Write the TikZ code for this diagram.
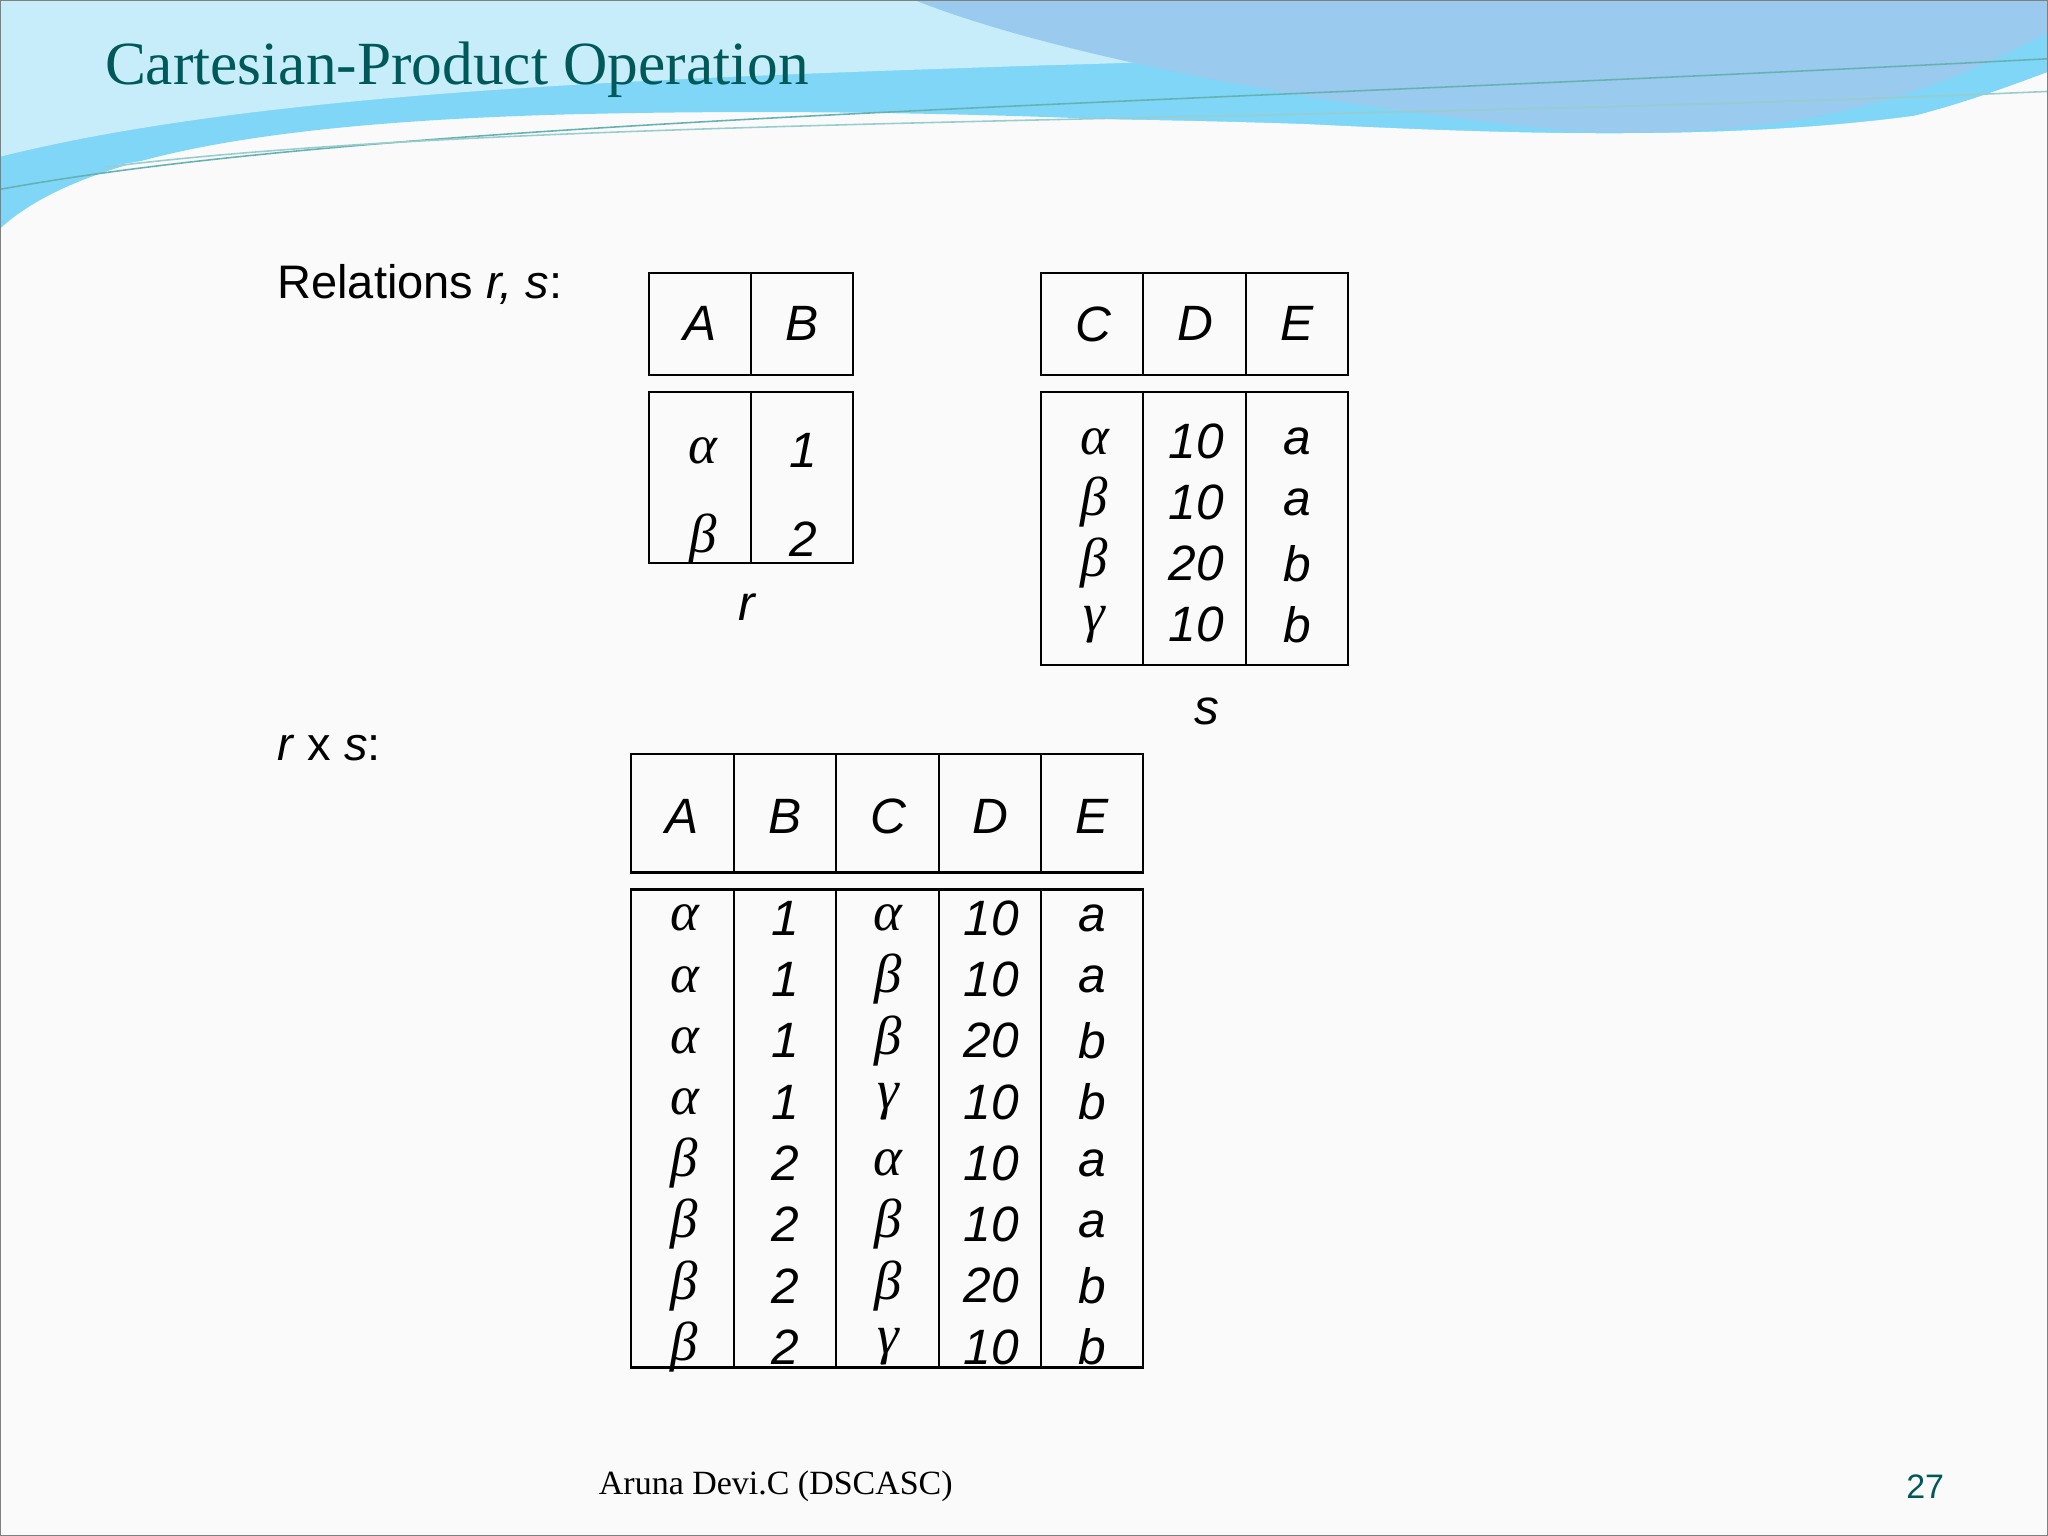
\documentclass[tikz,border=0pt]{standalone}
\usepackage{fontspec}
\setsansfont{Liberation Sans}
\newfontfamily\serifx{Liberation Serif}
\begin{document}
\begin{tikzpicture}[x=0.5pt,y=-0.5pt,
  cell/.style={draw=black,line width=0.8pt},
  tx/.style={font=\sffamily\itshape\fontsize{19}{22}\selectfont,inner sep=0pt},
  gk/.style={font=\serifx\itshape\fontsize{21}{24}\selectfont,inner sep=0pt},
  lab/.style={font=\sffamily\fontsize{18}{21}\selectfont,anchor=west,inner sep=0pt}]
\useasboundingbox (0,0) rectangle (1568,1176);
\fill[white!96!gray] (0,0) rectangle (1568,1176);
% header waves
\fill[cyan!50!white] (0,0) -- (0,175) .. controls (60,120) and (200,95) .. (420,88) .. controls (700,80) and (1000,95) .. (1200,115) .. controls (1400,120) and (1500,80) .. (1568,55) -- (1568,0) -- cycle;
\fill[cyan!22!white] (0,0) -- (0,120) .. controls (200,70) and (500,60) .. (800,50) .. controls (1000,45) and (1200,30) .. (1300,0) -- cycle;
\fill[cyan!75!blue!40!white] (700,0) .. controls (800,40) and (1000,80) .. (1200,100) .. controls (1400,110) and (1500,60) .. (1568,25) -- (1568,0) -- cycle;
\fill[white!96!gray] (80,128) .. controls (300,90) and (700,85) .. (1000,95) .. controls (1200,105) and (1400,110) .. (1568,70) -- (1568,80) .. controls (1400,125) and (1200,120) .. (1000,112) .. controls (700,100) and (300,100) .. (80,128) -- cycle;
\draw[teal!60,line width=0.6pt] (0,145) .. controls (300,90) and (900,80) .. (1568,45);
\draw[teal!40,line width=0.6pt] (80,128) .. controls (400,88) and (1000,95) .. (1568,70);
\draw[gray,line width=0.6pt] (0.5,0.5) rectangle (1567.5,1175.5);
\node[font=\serifx\fontsize{23.5}{26}\selectfont,text=teal!70!black,anchor=base west,inner sep=0pt] (title) at (80,65) {Cartesian-Product Operation};
% labels
\node[lab] (lrs) at (212,218) {Relations \textit{r, s}:};
\node[lab] (lrxs) at (212,573) {\textit{r} x \textit{s}:};
% table r
\draw[cell] (497,209) rectangle (653,287) (575,209) -- (575,287);
\draw[cell] (497,300) rectangle (653,431) (575,300) -- (575,431);
\node[tx] (rA) at (536,248) {A}; \node[tx] (rB) at (614,248) {B};
\node[gk] (r1) at (538,345) {α}; \node[tx] (r2) at (615,345) {1};
\node[gk] (r3) at (538,413) {β}; \node[tx] (r4) at (615,413) {2};
\node[tx] (rl) at (572,465) {r};
% table s
\draw[cell] (797,209) rectangle (1032,287) (875,209) -- (875,287) (954,209) -- (954,287);
\draw[cell] (797,300) rectangle (1032,509) (875,300) -- (875,509) (954,300) -- (954,509);
\node[tx] (sC) at (837,248) {C}; \node[tx] (sD) at (915,248) {D}; \node[tx] (sE) at (993,248) {E};
\foreach \g/\n/\l [count=\i] in {α/10/a,β/10/a,β/20/b,γ/10/b}{
  \node[gk] (sg\i) at (838,{338+46.7*(\i-1)}) {\g};
  \node[tx] (sn\i) at (916,{338+46.7*(\i-1)}) {\n};
  \node[tx] (sl\i) at (993,{338+46.7*(\i-1)}) {\l};
}
\node[tx] (sl) at (924,545) {s};
% table rxs
\draw[cell] (483,577) rectangle (875,668) (562,577) -- (562,668) (640,577) -- (640,668) (719,577) -- (719,668) (797,577) -- (797,668);
\draw[cell] (483,681) rectangle (875,1047) (562,681) -- (562,1047) (640,681) -- (640,1047) (719,681) -- (719,1047) (797,681) -- (797,1047);
\foreach \h/\x in {A/522,B/601,C/680,D/758,E/836}{\node[tx] (h\h) at (\x,625) {\h};}
\foreach \a/\b/\c/\d/\e [count=\i] in {α/1/α/10/a,α/1/β/10/a,α/1/β/20/b,α/1/γ/10/b,β/2/α/10/a,β/2/β/10/a,β/2/β/20/b,β/2/γ/10/b}{
  \node[gk] (pa\i) at (524,{703+46.9*(\i-1)}) {\a};
  \node[tx] (pb\i) at (601,{703+46.9*(\i-1)}) {\b};
  \node[gk] (pc\i) at (680,{703+46.9*(\i-1)}) {\c};
  \node[tx] (pd\i) at (759,{703+46.9*(\i-1)}) {\d};
  \node[tx] (pe\i) at (836,{703+46.9*(\i-1)}) {\e};
}
% footer
\node[font=\serifx\fontsize{13}{15}\selectfont,inner sep=0pt] (foot) at (594,1138) {Aruna Devi.C (DSCASC)};
\node[font=\sffamily\fontsize{13}{15}\selectfont,text=teal!70!black,inner sep=0pt] (pg) at (1474,1138) {27};
\end{tikzpicture}
\end{document}
